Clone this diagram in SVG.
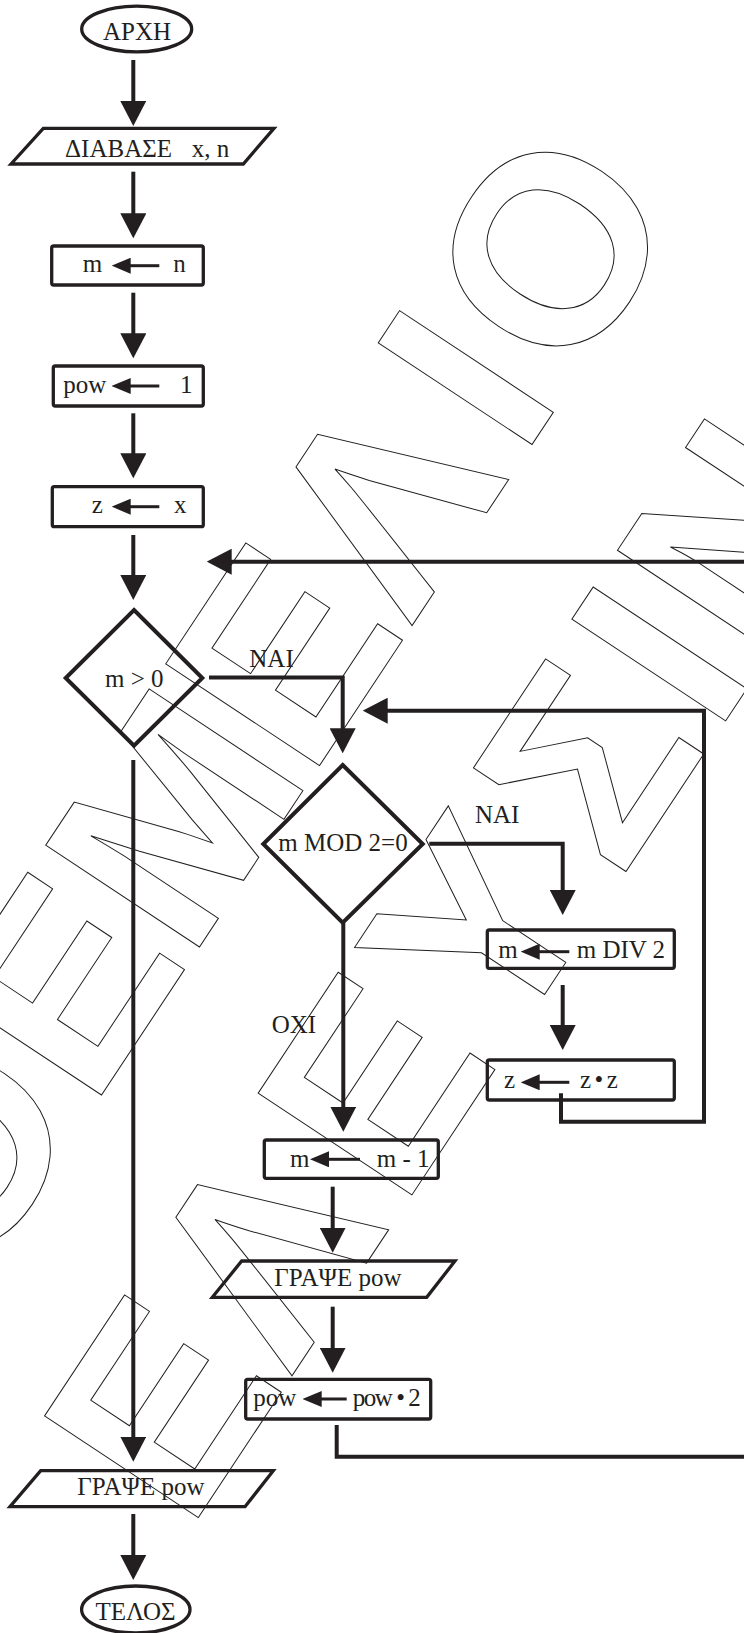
<svg xmlns="http://www.w3.org/2000/svg" width="744" height="1633" viewBox="0 0 744 1633">
<style>
.nd{fill:none;stroke:#231f20;stroke-width:3.3;stroke-linejoin:miter}
.dm{fill:none;stroke:#231f20;stroke-width:4;stroke-linejoin:miter}
.cn{fill:none;stroke:#231f20;stroke-width:4;stroke-linejoin:miter}
.ia{fill:none;stroke:#231f20;stroke-width:3}
.t{font-family:"Liberation Serif","Times New Roman",serif;font-size:25px;fill:#231f20}
.wm{font-family:"Liberation Sans",Arial,sans-serif;font-weight:bold;font-size:268px;fill:none;stroke:#231f20;stroke-width:1}
</style>
<defs>
<marker id="ah" viewBox="0 0 25 26" markerWidth="25" markerHeight="26" refX="2" refY="13" orient="auto" markerUnits="userSpaceOnUse"><path d="M0,0L25,13L0,26z" fill="#231f20"/></marker>
<marker id="as" viewBox="0 0 19 16" markerWidth="19" markerHeight="16" refX="1" refY="8" orient="auto" markerUnits="userSpaceOnUse"><path d="M0,0L19,8L0,16z" fill="#231f20"/></marker>
</defs>
<rect width="744" height="1633" fill="#fff"/>

<g id="watermark">
<text class="wm" transform="rotate(-56.5)" y="689" x="-1090 -875 -697.5 -480 -296 -95 -8">ΘΕΜΕΛΙΟ</text>
<text class="wm" transform="rotate(-56.5)" y="1003" x="-1174 -988 -787 -599 -393 -218.6 -136">ΕΛΕΥΣΙΝ</text>
</g>

<g id="connectors">
<path class="cn" d="M133.3,60V103" marker-end="url(#ah)"/>
<path class="cn" d="M133.3,171.7V215.3" marker-end="url(#ah)"/>
<path class="cn" d="M133.3,292.7V335.3" marker-end="url(#ah)"/>
<path class="cn" d="M133.3,413.3V455.3" marker-end="url(#ah)"/>
<path class="cn" d="M133.3,535V577" marker-end="url(#ah)"/>
<path class="cn" d="M209,677.5H342.7V730.3" marker-end="url(#ah)"/>
<path class="cn" d="M133.3,760V1438.7" marker-end="url(#ah)"/>
<path class="cn" d="M429.3,843.7H562.7V892" marker-end="url(#ah)"/>
<path class="cn" d="M343.3,922.7V1108.7" marker-end="url(#ah)"/>
<path class="cn" d="M562.7,985V1027" marker-end="url(#ah)"/>
<path class="cn" d="M561,1093.3V1121.7H704V710.7H385.7" marker-end="url(#ah)"/>
<path class="cn" d="M332.7,1186.7V1229.7" marker-end="url(#ah)"/>
<path class="cn" d="M332.7,1306.7V1349.7" marker-end="url(#ah)"/>
<path class="cn" d="M336.7,1425V1456.7H760V561.7H229.7" marker-end="url(#ah)"/>
<path class="cn" d="M133.3,1514V1557" marker-end="url(#ah)"/>
<text class="t" x="249.3" y="667.3">ΝΑΙ</text>
<text class="t" x="475" y="823.3">ΝΑΙ</text>
<text class="t" x="271.7" y="1033.3">ΟΧΙ</text>
</g>

<g id="start">
<ellipse class="nd" cx="136.7" cy="29" rx="55" ry="22.8"/>
<text class="t" x="137" y="40" text-anchor="middle">ΑΡΧΗ</text>
</g>

<g id="read">
<polygon class="nd" points="43.3,128.3 274,128.3 243.3,164 11,164"/>
<text class="t" x="65" y="156.7">ΔΙΑΒΑΣΕ <tspan x="191.7">x, n</tspan></text>
</g>

<g id="assign-m">
<rect class="nd" x="51.7" y="246" width="151.6" height="39" rx="2"/>
<text class="t" x="82.7" y="271.7">m</text>
<path class="ia" d="M159.3,265.7H129.7" marker-end="url(#as)"/>
<text class="t" x="173.3" y="271.7">n</text>
</g>

<g id="assign-pow">
<rect class="nd" x="53.3" y="366" width="150" height="40" rx="2"/>
<text class="t" x="63.3" y="393.3">pow</text>
<path class="ia" d="M159.3,386H129.7" marker-end="url(#as)"/>
<text class="t" x="180" y="393.3">1</text>
</g>

<g id="assign-z">
<rect class="nd" x="52.3" y="486.7" width="151" height="40" rx="2"/>
<text class="t" x="91.7" y="513.3">z</text>
<path class="ia" d="M159.3,506.7H129.7" marker-end="url(#as)"/>
<text class="t" x="174" y="513.3">x</text>
</g>

<g id="cond-m">
<polygon class="dm" points="134,610 202.3,678 134,745.7 65.7,678"/>
<text class="t" x="105" y="686.7">m &gt; 0</text>
</g>

<g id="cond-mod">
<polygon class="dm" points="342.7,765 422.7,844 342.7,922.7 263.3,844"/>
<text class="t" x="278.3" y="851">m MOD 2=0</text>
</g>

<g id="assign-div">
<rect class="nd" x="487.3" y="930" width="187" height="38.3" rx="2"/>
<text class="t" x="498.3" y="958.3">m</text>
<path class="ia" d="M569.3,951.7H538.7" marker-end="url(#as)"/>
<text class="t" x="576.7" y="958.3">m DIV 2</text>
</g>

<g id="assign-zz">
<rect class="nd" x="487.3" y="1060" width="187" height="40" rx="2"/>
<text class="t" x="504" y="1088.3">z</text>
<path class="ia" d="M569.3,1082.3H538.7" marker-end="url(#as)"/>
<text class="t" x="580" y="1088.3" letter-spacing="3.5">z•z</text>
</g>

<g id="assign-dec">
<rect class="nd" x="264.3" y="1140" width="174" height="38.3" rx="2"/>
<text class="t" x="290" y="1166.7">m</text>
<path class="ia" d="M360,1159.3H328" marker-end="url(#as)"/>
<text class="t" x="376.7" y="1166.7">m - 1</text>
</g>

<g id="write-1">
<polygon class="nd" points="241.7,1261 455,1261 426.7,1297.3 212.3,1297.3"/>
<text class="t" x="274.3" y="1286">ΓΡΑΨΕ pow</text>
</g>

<g id="assign-pow2">
<rect class="nd" x="245.7" y="1379.3" width="185" height="39.7" rx="2"/>
<text class="t" x="253.3" y="1406">pow</text>
<path class="ia" d="M346.7,1399H320.7" marker-end="url(#as)"/>
<text class="t" x="352.7" y="1406" textLength="68" lengthAdjust="spacing">pow • 2</text>
</g>

<g id="write-2">
<polygon class="nd" points="40.7,1470.7 273.3,1470.7 245,1506.7 10,1506.7"/>
<text class="t" x="77.3" y="1495">ΓΡΑΨΕ pow</text>
</g>

<g id="end">
<ellipse class="nd" cx="135.8" cy="1609.5" rx="54.2" ry="23.5"/>
<text class="t" x="135.5" y="1620" text-anchor="middle">ΤΕΛΟΣ</text>
</g>
</svg>
